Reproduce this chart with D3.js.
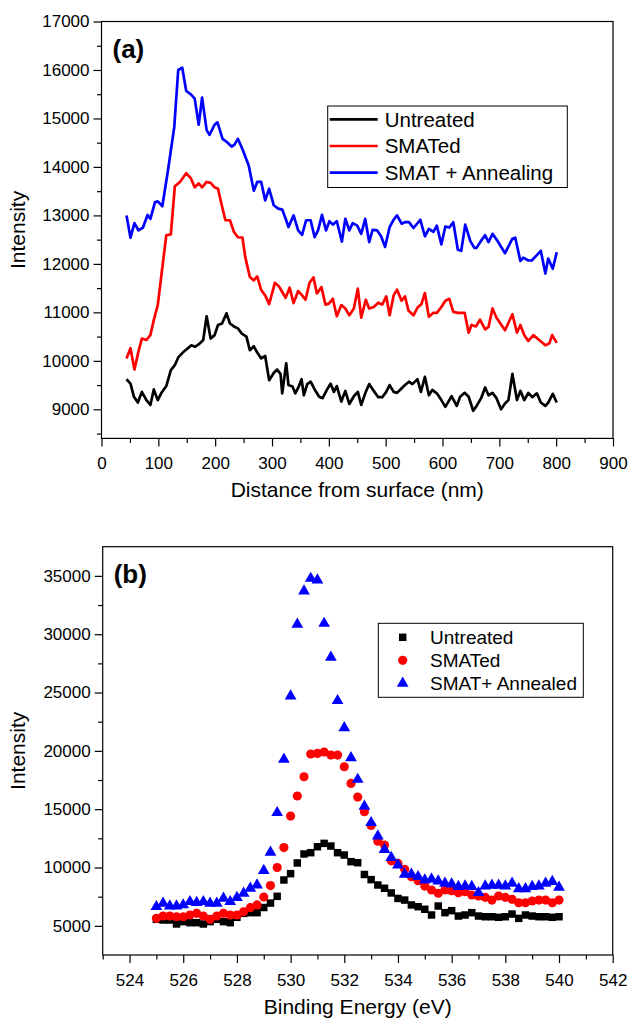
<!DOCTYPE html>
<html>
<head>
<meta charset="utf-8">
<script src="https://cdn.jsdelivr.net/npm/d3@7"></script>
<style>
  html, body { margin: 0; padding: 0; background: #fff; }
  svg text { font-family: "Liberation Sans", Arial, sans-serif; fill: #000; }
  .axis path.domain { display: none; }
  .axis line { stroke: #000; stroke-width: 1.2; }
</style>
</head>
<body>
<div id="chart"></div>
<script>
// DATA - panel (a): depth profiles, [distance nm, intensity]
const untreatedProfile = [
  [44, 9620], [51, 9530], [57, 9260], [64, 9140], [71, 9360], [79, 9190], [86, 9090], [92, 9410],
  [99, 9190], [105, 9330], [114, 9480], [122, 9810], [129, 9910], [135, 10070], [143, 10170],
  [152, 10260], [158, 10320], [165, 10290], [173, 10360], [179, 10430], [185, 10920], [192, 10460],
  [199, 10530], [205, 10740], [212, 10770], [220, 10980], [226, 10770], [233, 10710], [240, 10670],
  [247, 10560], [255, 10500], [261, 10220], [268, 10300], [274, 10170], [281, 10050], [288, 10100],
  [295, 9600], [303, 9750], [309, 9820], [315, 9730], [318, 9330], [325, 9950], [329, 9500],
  [336, 9470], [341, 9330], [347, 9470], [352, 9620], [356, 9290], [362, 9520], [368, 9570],
  [375, 9410], [383, 9260], [389, 9230], [397, 9410], [403, 9530], [409, 9360], [414, 9480],
  [422, 9160], [429, 9380], [436, 9110], [444, 9270], [451, 9360], [457, 9090], [464, 9330],
  [471, 9520], [479, 9380], [487, 9250], [494, 9250], [501, 9360], [507, 9500], [514, 9360],
  [520, 9340], [526, 9410], [534, 9500], [541, 9570], [547, 9520], [556, 9620], [562, 9360],
  [569, 9670], [576, 9290], [582, 9400], [590, 9330], [598, 9190], [605, 9050], [612, 9190],
  [616, 9270], [625, 9070], [631, 9260], [639, 9340], [646, 9260], [654, 8970], [660, 9070],
  [668, 9230], [675, 9450], [681, 9290], [688, 9340], [695, 9230], [703, 9000], [710, 9120],
  [716, 9190], [723, 9730], [731, 9190], [737, 9380], [744, 9190], [751, 9340], [758, 9250],
  [766, 9330], [773, 9140], [781, 9070], [786, 9140], [794, 9320], [801, 9140]
]
const smatedProfile = [
  [44, 10050], [51, 10260], [58, 9820], [65, 10190], [71, 10460], [79, 10430], [86, 10530],
  [92, 10840], [99, 11150], [105, 11730], [114, 12590], [122, 12610], [129, 13600], [138, 13690],
  [149, 13870], [157, 13770], [164, 13580], [171, 13660], [177, 13580], [185, 13690], [192, 13670],
  [199, 13580], [205, 13550], [211, 13240], [218, 12900], [226, 12900], [233, 12660], [240, 12550],
  [248, 12540], [253, 12140], [261, 11730], [268, 11660], [274, 11740], [281, 11460], [288, 11350],
  [295, 11170], [305, 11610], [312, 11540], [319, 11400], [324, 11300], [331, 11510], [338, 11190],
  [346, 11440], [353, 11350], [359, 11260], [366, 11610], [373, 11720], [379, 11390], [387, 11520],
  [394, 11160], [400, 11180], [407, 11280], [414, 10920], [422, 11150], [429, 11080], [436, 10940],
  [444, 11080], [451, 11490], [457, 10890], [465, 11260], [471, 11080], [479, 11110], [487, 11200],
  [494, 11160], [501, 11330], [507, 10940], [514, 11350], [520, 11470], [528, 11240], [534, 11330],
  [540, 11040], [549, 10940], [556, 11100], [563, 11170], [569, 11400], [576, 10910], [584, 10990],
  [590, 10990], [598, 11110], [605, 11240], [612, 11280], [619, 11010], [627, 10990], [639, 10990],
  [646, 10580], [651, 10740], [659, 10710], [666, 10850], [675, 10650], [681, 10700], [688, 11080],
  [695, 10890], [710, 10630], [723, 10960], [731, 10580], [737, 10740], [744, 10530], [751, 10410],
  [760, 10530], [769, 10440], [781, 10320], [788, 10360], [793, 10530], [801, 10370]
]
const annealedProfile = [
  [44, 13000], [51, 12540], [58, 12840], [65, 12690], [73, 12750], [81, 13010], [86, 12930],
  [94, 13270], [99, 13290], [107, 13190], [117, 13930], [128, 14820], [135, 16000], [142, 16050],
  [149, 15570], [157, 15500], [164, 15410], [171, 14870], [177, 15430], [185, 14760], [190, 14660],
  [199, 14870], [204, 14920], [213, 14580], [220, 14520], [229, 14420], [234, 14460], [240, 14580],
  [249, 14340], [259, 14030], [268, 13510], [274, 13690], [281, 13690], [288, 13310], [295, 13550],
  [303, 13210], [311, 13140], [318, 13120], [324, 12930], [329, 12760], [338, 13000], [346, 12690],
  [353, 12600], [360, 12900], [368, 12900], [375, 12550], [381, 12690], [388, 13010], [395, 12690],
  [401, 12880], [407, 12810], [414, 12880], [423, 12460], [429, 12930], [436, 12690], [442, 12840],
  [450, 12790], [457, 12620], [464, 12930], [471, 12450], [477, 12700], [485, 12690], [492, 12570],
  [499, 12350], [507, 12760], [514, 12910], [520, 13000], [528, 12830], [534, 12860], [541, 12860],
  [549, 12740], [561, 12910], [569, 12570], [576, 12720], [584, 12660], [590, 12790], [598, 12400],
  [605, 12770], [612, 12750], [619, 12860], [627, 12290], [633, 12270], [640, 12810], [649, 12470],
  [656, 12330], [660, 12330], [668, 12480], [675, 12590], [681, 12450], [688, 12620], [697, 12470],
  [710, 12220], [723, 12520], [728, 12540], [737, 12060], [742, 12130], [751, 12070], [757, 12070],
  [766, 12180], [773, 12270], [781, 11800], [786, 12110], [794, 11900], [801, 12240]
]
const profileNames = ['Untreated', 'SMATed', 'SMAT + Annealing']

// DATA - panel (b): O 1s spectra
const bindingEnergy = [
  525, 525.25, 525.5, 525.75, 526, 526.25, 526.5, 526.75, 527, 527.25, 527.5, 527.75,
  528, 528.25, 528.5, 528.75, 529, 529.25, 529.5, 529.75, 530, 530.25, 530.5, 530.75,
  531, 531.25, 531.5, 531.75, 532, 532.25, 532.5, 532.75, 533, 533.25, 533.5, 533.75,
  534, 534.25, 534.5, 534.75, 535, 535.25, 535.5, 535.75, 536, 536.25, 536.5, 536.75,
  537, 537.25, 537.5, 537.75, 538, 538.25, 538.5, 538.75, 539, 539.25, 539.5, 539.75, 540
]
const untreatedSpectrum = [
  5560, 5500, 5500, 5160, 5360, 5270, 5270, 5160, 5360, 5560, 5360, 5270,
  5730, 6070, 6130, 6130, 6570, 6950, 7530, 8930, 9470, 10390, 11160, 11270,
  11780, 12070, 11840, 11270, 11070, 10500, 10410, 9400, 8960, 8500, 8220, 7820,
  7350, 7210, 6790, 6640, 6420, 5930, 6700, 6130, 6300, 5840, 5930, 6130,
  5840, 5780, 5780, 5730, 5780, 6010, 5640, 5930, 5840, 5780, 5780, 5730, 5780
]
const smatedSpectrum = [
  5640, 5840, 5840, 5780, 5780, 5930, 6070, 5840, 5560, 5840, 6070, 5930,
  5930, 6210, 6560, 6790, 7470, 8450, 10000, 11710, 14410, 16130, 17780, 19730,
  19780, 19900, 19640, 19640, 18640, 17210, 16040, 14780, 13600, 12250, 11930, 10570,
  10350, 9840, 9210, 8870, 8410, 8070, 7790, 8070, 8010, 7840, 7930, 7640,
  7560, 7440, 7210, 7560, 7440, 7270, 6980, 6980, 7130, 7210, 7210, 6980, 7210
]
const annealedSpectrum = [
  6640, 6930, 6700, 6700, 6790, 7070, 6990, 7070, 6930, 6930, 7360, 7070,
  7430, 7790, 8210, 8500, 9730, 11300, 14700, 19270, 24700, 30840, 33700, 34780,
  34640, 30920, 28010, 24300, 21980, 19410, 17550, 15240, 13840, 12700, 11530, 10850,
  10210, 9410, 9410, 9210, 8930, 9010, 8840, 8640, 8580, 8360, 8410, 8360,
  7840, 8410, 8470, 8470, 8410, 8640, 8180, 8180, 8360, 8410, 8640, 8790, 8300
]
const spectrumNames = ['Untreated', 'SMATed', 'SMAT+ Annealed']

const colors = ['#000000', '#ff0000', '#0000ff']

// SETTINGS
const settings = {
    width: 630,
    height: 1022,
    panelA: { left: 101.5, right: 613, top: 21.5, bottom: 438.4 },
    panelB: { left: 102.7, right: 612.7, top: 546.7, bottom: 955 },
    tickFont: 17,
    titleFont: 21
}

const svg = d3.select('#chart').append('svg')
    .attr('width', settings.width)
    .attr('height', settings.height)

drawPanelA()
drawPanelB()

// GRAPH FUNCTIONS
function drawAxes(g, x, y, box, xMajor, xMinor, yMajor, yMinor, xTitle, yTitle, letter) {
    const w = box.right - box.left
    const h = box.bottom - box.top

    // minor ticks
    g.append('g').attr('class', 'axis')
        .attr('transform', `translate(0, ${h})`)
        .call(d3.axisBottom(x).tickValues(xMinor).tickSize(4.5).tickFormat('').tickSizeOuter(0))
    g.append('g').attr('class', 'axis')
        .call(d3.axisLeft(y).tickValues(yMinor).tickSize(4.5).tickFormat('').tickSizeOuter(0))

    // major ticks
    const xAxis = g.append('g').attr('class', 'axis')
        .attr('transform', `translate(0, ${h})`)
        .call(d3.axisBottom(x).tickValues(xMajor).tickFormat(d3.format('d'))
            .tickSize(8).tickPadding(11).tickSizeOuter(0))
    const yAxis = g.append('g').attr('class', 'axis')
        .call(d3.axisLeft(y).tickValues(yMajor).tickFormat(d3.format('d'))
            .tickSize(8).tickPadding(4).tickSizeOuter(0))

    xAxis.selectAll('text').style('font-size', settings.tickFont + 'px')
    yAxis.selectAll('text').style('font-size', settings.tickFont + 'px')

    // frame
    g.append('rect')
        .attr('width', w)
        .attr('height', h)
        .attr('fill', 'none')
        .attr('stroke', '#000')
        .attr('stroke-width', 1.2)

    g.append('text')
        .attr('x', w / 2)
        .attr('y', h + 59)
        .attr('text-anchor', 'middle')
        .style('font-size', settings.titleFont + 'px')
        .text(xTitle)

    g.append('text')
        .attr('transform', `translate(${18 - box.left}, ${h / 2}) rotate(-90)`)
        .attr('dy', '0.35em')
        .attr('text-anchor', 'middle')
        .style('font-size', settings.titleFont + 'px')
        .text(yTitle)

    g.append('text')
        .attr('x', 11)
        .attr('y', 36)
        .style('font-size', '26px')
        .style('font-weight', 'bold')
        .text(letter)
}

function drawPanelA() {
    const box = settings.panelA
    const x = d3.scaleLinear().domain([0, 900]).range([0, box.right - box.left])
    const y = d3.scaleLinear().domain([8400, 17000]).range([box.bottom - box.top, 0])

    const g = svg.append('g').attr('transform', `translate(${box.left}, ${box.top})`)

    drawAxes(g, x, y, box,
        d3.range(0, 901, 100), d3.range(50, 900, 100),
        d3.range(9000, 17001, 1000), d3.range(8500, 17000, 1000),
        'Distance from surface (nm)', 'Intensity', '(a)')

    const line = d3.line().x(d => x(d[0])).y(d => y(d[1]))
    const profiles = [untreatedProfile, smatedProfile, annealedProfile]

    g.selectAll('.profile')
        .data(profiles)
        .enter().append('path')
        .attr('class', 'profile')
        .attr('d', line)
        .attr('fill', 'none')
        .attr('stroke', (d, i) => colors[i])
        .attr('stroke-width', 2.7)
        .attr('stroke-linejoin', 'round')

    // legend
    const lg = svg.append('g').attr('transform', 'translate(327.7, 106)')
    lg.append('rect')
        .attr('width', 239.6)
        .attr('height', 81.5)
        .attr('fill', '#fff')
        .attr('stroke', '#000')
        .attr('stroke-width', 1)
    profileNames.forEach((name, i) => {
        const row = lg.append('g').attr('transform', `translate(0, ${13.3 + i * 26.7})`)
        row.append('line')
            .attr('x1', 2).attr('x2', 50)
            .attr('stroke', colors[i])
            .attr('stroke-width', 2.7)
        row.append('text')
            .attr('x', 57)
            .attr('dy', '0.36em')
            .style('font-size', '20.5px')
            .text(name)
    })
}

function drawPanelB() {
    const box = settings.panelB
    const x = d3.scaleLinear().domain([523, 542]).range([0, box.right - box.left])
    const y = d3.scaleLinear().domain([2500, 37500]).range([box.bottom - box.top, 0])

    const g = svg.append('g').attr('transform', `translate(${box.left}, ${box.top})`)

    drawAxes(g, x, y, box,
        d3.range(524, 543, 2), d3.range(523, 542, 2),
        d3.range(5000, 35001, 5000), d3.range(7500, 37500, 5000),
        'Binding Energy (eV)', 'Intensity', '(b)')

    const square = d3.symbol().type(d3.symbolSquare).size(56)
    const circle = d3.symbol().type(d3.symbolCircle).size(66)
    const triangle = d3.symbol().type(d3.symbolTriangle).size(60)
    const symbols = [square, circle, triangle]
    const spectra = [untreatedSpectrum, smatedSpectrum, annealedSpectrum]

    spectra.forEach((values, i) => {
        g.selectAll('.pt-' + i)
            .data(values)
            .enter().append('path')
            .attr('class', 'pt-' + i)
            .attr('transform', (d, j) => `translate(${x(bindingEnergy[j])}, ${y(d)})`)
            .attr('d', symbols[i]())
            .attr('fill', colors[i])
    })

    // legend
    const lg = svg.append('g').attr('transform', 'translate(378.3, 623.3)')
    lg.append('rect')
        .attr('width', 205)
        .attr('height', 74)
        .attr('fill', '#fff')
        .attr('stroke', '#000')
        .attr('stroke-width', 1)
    spectrumNames.forEach((name, i) => {
        const row = lg.append('g').attr('transform', `translate(0, ${14 + i * 23})`)
        row.append('path')
            .attr('transform', 'translate(24.4, 0)')
            .attr('d', symbols[i]())
            .attr('fill', colors[i])
        row.append('text')
            .attr('x', 51.7)
            .attr('dy', '0.36em')
            .style('font-size', '19px')
            .text(name)
    })
}
</script>
</body>
</html>
